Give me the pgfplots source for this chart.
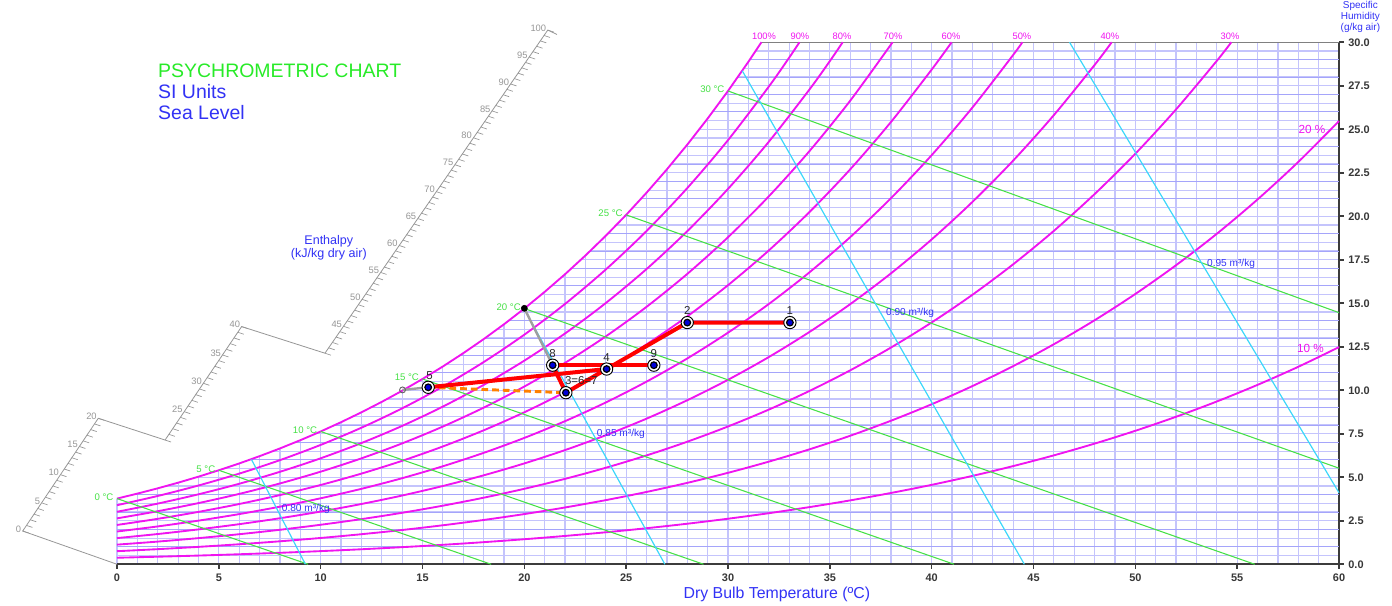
\documentclass[border=0pt]{standalone}
\usepackage{pgfplots}
\pgfplotsset{compat=1.18}
\usepackage{fontspec}
\setmainfont{Liberation Sans}
\definecolor{rh}{RGB}{240,20,240}
\definecolor{wb}{RGB}{70,225,70}
\definecolor{sv}{RGB}{60,215,250}
\definecolor{gridc}{RGB}{196,196,252}
\definecolor{gridd}{RGB}{165,165,250}
\definecolor{txtblue}{RGB}{50,50,245}
\definecolor{ttlgreen}{RGB}{40,235,40}
\definecolor{axc}{RGB}{60,60,60}
\definecolor{enth}{RGB}{150,150,150}
\begin{document}
\begin{tikzpicture}
\useasboundingbox (0,0) rectangle (1044pt,454.5pt);
\begin{axis}[
  at={(87.75pt,31.3pt)}, anchor=south west,
  scale only axis, width=916.5pt, height=391.5pt,
  xmin=0, xmax=60, ymin=0, ymax=30,
  axis x line=bottom, axis y line=right,
  axis line style={-, draw=axc, line width=1.4pt},
  xtick={0,5,...,60}, ytick={0,2.5,...,30},
  minor x tick num=4, minor y tick num=4,
  tick align=outside, major tick length=3.5pt, minor tick length=0pt,
  tick style={draw=axc, line width=1.2pt},
  grid=both,
  major grid style={draw=gridc, line width=0.9pt},
  minor grid style={draw=gridc, line width=0.9pt},
  extra y ticks={1,2,3,4,6,7,8,9,11,12,13,14,16,17,18,19,21,22,23,24,26,27,28,29},
  extra y tick labels={},
  extra tick style={major tick length=0pt, grid=major, major grid style={draw=gridd, line width=0.6pt}},
  ticklabel style={font=\fontsize{8.2}{10}\selectfont\bfseries, text={rgb,255:red,55;green,55;blue,55}},
  /pgf/number format/assume math mode=true,
  yticklabel style={/pgf/number format/.cd, fixed, fixed zerofill, precision=1},
  clip=false,
]
% white area above the saturation curve (hides the grid there)
\addplot[fill=white, draw=none] coordinates {(-0.4,3.775)(0,3.775)(1,4.060)(2,4.364)(3,4.688)(4,5.034)(5,5.402)(6,5.793)(7,6.212)(8,6.656)(9,7.129)(10,7.631)(11,8.165)(12,8.732)(13,9.333)(14,9.971)(15,10.649)(16,11.367)(17,12.129)(18,12.936)(19,13.791)(20,14.696)(21,15.656)(22,16.670)(23,17.744)(24,18.880)(25,20.081)(26,21.352)(27,22.696)(28,24.115)(29,25.616)(30,27.202)(31,28.876)(31.64,30)(31.64,30.5)(-0.4,30.5)} -- cycle;
\addplot[draw=gray, line width=1pt] coordinates {(31.64,30)(60,30)};

% relative humidity curves
\addplot[rh, line width=1.4pt] coordinates {(0,3.775)(1,4.060)(2,4.364)(3,4.688)(4,5.034)(5,5.402)(6,5.793)(7,6.212)(8,6.656)(9,7.129)(10,7.631)(11,8.165)(12,8.732)(13,9.333)(14,9.971)(15,10.649)(16,11.367)(17,12.129)(18,12.936)(19,13.791)(20,14.696)(21,15.656)(22,16.670)(23,17.744)(24,18.880)(25,20.081)(26,21.352)(27,22.696)(28,24.115)(29,25.616)(30,27.202)(31,28.876)(31.64,30)};
\addplot[rh, line width=1.4pt, smooth] coordinates {(0,3.395)(2,3.925)(4,4.527)(6,5.209)(8,5.984)(10,6.860)(12,7.847)(14,8.960)(16,10.212)(18,11.618)(20,13.195)(22,14.963)(24,16.941)(26,19.151)(28,21.620)(30,24.375)(32,27.446)(33,29.110)(33.51,30)};
\addplot[rh, line width=1.4pt, smooth] coordinates {(0,3.016)(2,3.487)(4,4.021)(6,4.626)(8,5.314)(10,6.090)(12,6.966)(14,7.951)(16,9.061)(18,10.306)(20,11.702)(22,13.265)(24,15.013)(26,16.965)(28,19.144)(30,21.573)(32,24.277)(34,27.287)(35,28.917)(35.63,30)};
\addplot[rh, line width=1.4pt, smooth] coordinates {(0,2.638)(2,3.049)(4,3.515)(6,4.044)(8,4.644)(10,5.322)(12,6.087)(14,6.946)(16,7.914)(18,8.999)(20,10.215)(22,11.576)(24,13.097)(26,14.794)(28,16.687)(30,18.794)(32,21.139)(34,23.746)(36,26.642)(38.08,30)};
\addplot[rh, line width=1.4pt, smooth] coordinates {(0,2.259)(2,2.611)(4,3.011)(6,3.463)(8,3.977)(10,4.557)(12,5.210)(14,5.945)(16,6.771)(18,7.697)(20,8.735)(22,9.896)(24,11.192)(26,12.638)(28,14.248)(30,16.040)(32,18.032)(34,20.243)(36,22.697)(38,25.417)(40,28.430)(40.98,30)};
\addplot[rh, line width=1.4pt, smooth] coordinates {(0,1.882)(2,2.175)(4,2.507)(6,2.883)(8,3.310)(10,3.792)(12,4.335)(14,4.946)(16,5.632)(18,6.401)(20,7.262)(22,8.225)(24,9.299)(26,10.496)(28,11.828)(30,13.310)(32,14.954)(34,16.778)(36,18.800)(38,21.037)(40,23.512)(42,26.248)(44,29.269)(44.45,30)};
\addplot[rh, line width=1.4pt, smooth] coordinates {(0,1.504)(2,1.738)(4,2.004)(6,2.304)(8,2.645)(10,3.030)(12,3.463)(14,3.950)(16,4.498)(18,5.110)(20,5.796)(22,6.563)(24,7.417)(26,8.368)(28,9.427)(30,10.602)(32,11.906)(34,13.351)(36,14.949)(38,16.717)(40,18.669)(42,20.823)(44,23.197)(46,25.814)(48,28.696)(48.84,30)};
\addplot[rh, line width=1.4pt, smooth] coordinates {(0,1.128)(2,1.303)(4,1.502)(6,1.727)(8,1.982)(10,2.270)(12,2.594)(14,2.958)(16,3.367)(18,3.825)(20,4.337)(22,4.909)(24,5.546)(26,6.255)(28,7.043)(30,7.918)(32,8.887)(34,9.960)(36,11.145)(38,12.454)(40,13.897)(42,15.487)(44,17.237)(46,19.162)(48,21.276)(50,23.595)(52,26.143)(54,28.932)(54.71,30)};
\addplot[rh, line width=1.4pt, smooth] coordinates {(0,0.751)(2,0.868)(4,1.000)(6,1.150)(8,1.320)(10,1.511)(12,1.727)(14,1.969)(16,2.241)(18,2.545)(20,2.885)(22,3.264)(24,3.686)(26,4.156)(28,4.678)(30,5.256)(32,5.897)(34,6.605)(36,7.386)(38,8.248)(40,9.196)(42,10.240)(44,11.386)(46,12.645)(48,14.024)(50,15.534)(52,17.188)(54,18.993)(56,20.967)(58,23.121)(60,25.473)};
\addplot[rh, line width=1.4pt, smooth] coordinates {(0,0.375)(2,0.434)(4,0.500)(6,0.575)(8,0.659)(10,0.755)(12,0.862)(14,0.983)(16,1.118)(18,1.270)(20,1.439)(22,1.628)(24,1.838)(26,2.071)(28,2.330)(30,2.617)(32,2.934)(34,3.285)(36,3.671)(38,4.097)(40,4.564)(42,5.078)(44,5.642)(46,6.259)(48,6.934)(50,7.671)(52,8.477)(54,9.354)(56,10.310)(58,11.349)(60,12.481)};

% wet bulb lines
\addplot[wb, line width=0.8pt] coordinates {(0,3.775)(9.385,0)};
\addplot[wb, line width=0.8pt] coordinates {(5,5.402)(18.37,0)};
\addplot[wb, line width=0.8pt] coordinates {(10,7.631)(28.80,0)};
\addplot[wb, line width=0.8pt] coordinates {(15,10.649)(41.10,0)};
\addplot[wb, line width=0.8pt] coordinates {(20,14.696)(55.86,0)};
\addplot[wb, line width=0.8pt] coordinates {(25,20.081)(60,5.52)};
\addplot[wb, line width=0.8pt] coordinates {(30,27.202)(60,14.46)};

% specific volume lines
\addplot[sv, line width=0.9pt] coordinates {(6.6,6.03)(9.25,0)};
\addplot[sv, line width=0.9pt] coordinates {(20.0,14.66)(26.90,0)};
\addplot[sv, line width=0.9pt] coordinates {(30.7,28.36)(44.55,0)};
\addplot[sv, line width=0.9pt] coordinates {(46.77,30)(60,4.11)};

% enthalpy scale
\addplot[draw=enth, line width=0.6pt] coordinates {(0,0)(-4.63,1.91)(-0.92,8.39)(2.36,7.14)(6.12,13.66)(10.21,12.13)(21.15,30.7)(21.6,30.45)};
\pgfplotsinvokeforeach{0,...,20}{\draw[enth, line width=0.5pt] (axis cs:{-4.63+#1*0.1855},{1.91+#1*0.324}) -- ++(4.5pt,-1.5pt);}
\pgfplotsinvokeforeach{20,...,40}{\draw[enth, line width=0.5pt] (axis cs:{2.36+(#1-20)*0.188},{7.14+(#1-20)*0.326}) -- ++(4.5pt,-1.5pt);}
\pgfplotsinvokeforeach{40,...,100}{\draw[enth, line width=0.5pt] (axis cs:{10.21+(#1-40)*0.1823},{12.13+(#1-40)*0.3095}) -- ++(4.5pt,-1.5pt);}
\pgfplotsinvokeforeach{0,5,10,15,20}{\node[anchor=east, text=enth, inner sep=1pt, yshift=1.5pt, font=\fontsize{7}{7}\selectfont] at (axis cs:{-4.63+#1*0.1855},{1.91+#1*0.324}) {#1};}
\pgfplotsinvokeforeach{25,30,35,40}{\node[anchor=east, text=enth, inner sep=1pt, yshift=1.5pt, font=\fontsize{7}{7}\selectfont] at (axis cs:{2.36+(#1-20)*0.188},{7.14+(#1-20)*0.326}) {#1};}
\pgfplotsinvokeforeach{45,50,...,100}{\node[anchor=east, text=enth, inner sep=1pt, yshift=1.5pt, font=\fontsize{7}{7}\selectfont] at (axis cs:{10.21+(#1-40)*0.1823},{12.13+(#1-40)*0.3095}) {#1};}

% process lines
\addplot[draw=gray!75, line width=1.8pt] coordinates {(20.0,14.71)(21.39,11.44)};
\addplot[draw=gray!75, line width=1.8pt] coordinates {(14.02,10.02)(15.28,10.17)};
\addplot[draw=orange, line width=2.2pt, dash pattern=on 5pt off 3pt] coordinates {(15.28,10.17)(22.04,9.86)};
\addplot[draw=red, line width=3pt] coordinates {(33.04,13.89)(28.0,13.89)(24.04,11.22)};
\addplot[draw=red, line width=3pt] coordinates {(15.28,10.17)(24.04,11.22)};
\addplot[draw=red, line width=3pt] coordinates {(21.39,11.44)(26.36,11.44)};
\addplot[draw=red, line width=3pt] coordinates {(21.39,11.44)(22.04,9.86)(24.04,11.22)};

% markers
\addplot[only marks, mark=*, mark size=4.6pt, mark options={fill=white, draw=black, line width=0.7pt}] coordinates {(33.04,13.89)(28.0,13.89)(24.04,11.22)(26.36,11.44)(21.39,11.44)(22.04,9.86)(15.28,10.17)};
\addplot[only marks, mark=*, mark size=2.5pt, mark options={fill=blue!85!black, draw=black, line width=0.9pt}] coordinates {(33.04,13.89)(28.0,13.89)(24.04,11.22)(26.36,11.44)(21.39,11.44)(22.04,9.86)(15.28,10.17)};
\addplot[only marks, mark=*, mark size=2.3pt, mark options={fill=black, draw=black}] coordinates {(20.0,14.71)};
\addplot[only marks, mark=o, mark size=2.2pt, mark options={draw=gray!80!black, line width=0.7pt}] coordinates {(14.02,10.02)};

% point labels
\begin{scope}[every node/.style={anchor=south, text={rgb,255:red,40;green,40;blue,40}, font=\fontsize{8.6}{9}\selectfont, inner sep=0.5pt, yshift=5pt}]
\node at (axis cs:33.04,13.89) {1};
\node at (axis cs:28.0,13.89) {2};
\node at (axis cs:24.04,11.22) {4};
\node at (axis cs:26.36,11.44) {9};
\node at (axis cs:21.39,11.44) {8};
\node at (axis cs:15.35,10.17) {5};
\node at (axis cs:22.8,9.86) {3=6=7};
\end{scope}

% wet bulb labels
\begin{scope}[every node/.style={anchor=east, text=wb, font=\fontsize{7.2}{8}\selectfont, inner sep=0.5pt, xshift=-2pt, yshift=1pt}]
\node at (axis cs:0,3.775) {0 °C};
\node at (axis cs:5,5.402) {5 °C};
\node at (axis cs:10,7.631) {10 °C};
\node at (axis cs:15,10.649) {15 °C};
\node at (axis cs:20,14.696) {20 °C};
\node at (axis cs:25,20.081) {25 °C};
\node at (axis cs:30,27.202) {30 °C};
\end{scope}

% volume labels
\begin{scope}[every node/.style={text=txtblue, font=\fontsize{7.6}{8}\selectfont, inner sep=0.5pt}]
\node at (axis cs:9.27,3.18) {0.80 m³/kg};
\node at (axis cs:24.74,7.49) {0.85 m³/kg};
\node at (axis cs:38.94,14.44) {0.90 m³/kg};
\node at (axis cs:54.70,17.26) {0.95 m³/kg};
\end{scope}

% RH labels
\begin{scope}[every node/.style={anchor=south, text=rh, font=\fontsize{7}{8}\selectfont, inner sep=0.5pt, yshift=1.5pt}]
\node at (axis cs:31.77,30) {100\%};
\node at (axis cs:33.53,30) {90\%};
\node at (axis cs:35.6,30) {80\%};
\node at (axis cs:38.1,30) {70\%};
\node at (axis cs:40.95,30) {60\%};
\node at (axis cs:44.43,30) {50\%};
\node at (axis cs:48.75,30) {40\%};
\node at (axis cs:54.65,30) {30\%};
\end{scope}
\node[text=rh, font=\fontsize{8.8}{10}\selectfont] at (axis cs:58.67,24.96) {20 \%};
\node[text=rh, font=\fontsize{8.8}{10}\selectfont] at (axis cs:58.6,12.43) {10 \%};

% titles and labels
\node[anchor=west, text=ttlgreen, font=\fontsize{14.6}{16}\selectfont, inner sep=0pt] at (axis cs:2.01,28.35) {PSYCHROMETRIC CHART};
\node[anchor=west, text=txtblue, font=\fontsize{14.6}{16}\selectfont, inner sep=0pt] at (axis cs:2.01,27.15) {SI Units};
\node[anchor=west, text=txtblue, font=\fontsize{14.6}{16}\selectfont, inner sep=0pt] at (axis cs:2.01,25.94) {Sea Level};
\node[align=center, text=txtblue, font=\fontsize{9.4}{10}\selectfont] at (axis cs:10.4,18.2) {Enthalpy\\(kJ/kg dry air)};
\node[align=center, text=txtblue, font=\fontsize{7.5}{8.3}\selectfont] at (axis cs:61.05,31.44) {Specific\\Humidity\\(g/kg air)};
\node[text=txtblue, font=\fontsize{11.9}{13}\selectfont] at (axis cs:32.4,-1.71) {Dry Bulb Temperature (ºC)};
\end{axis}
\end{tikzpicture}
\end{document}
